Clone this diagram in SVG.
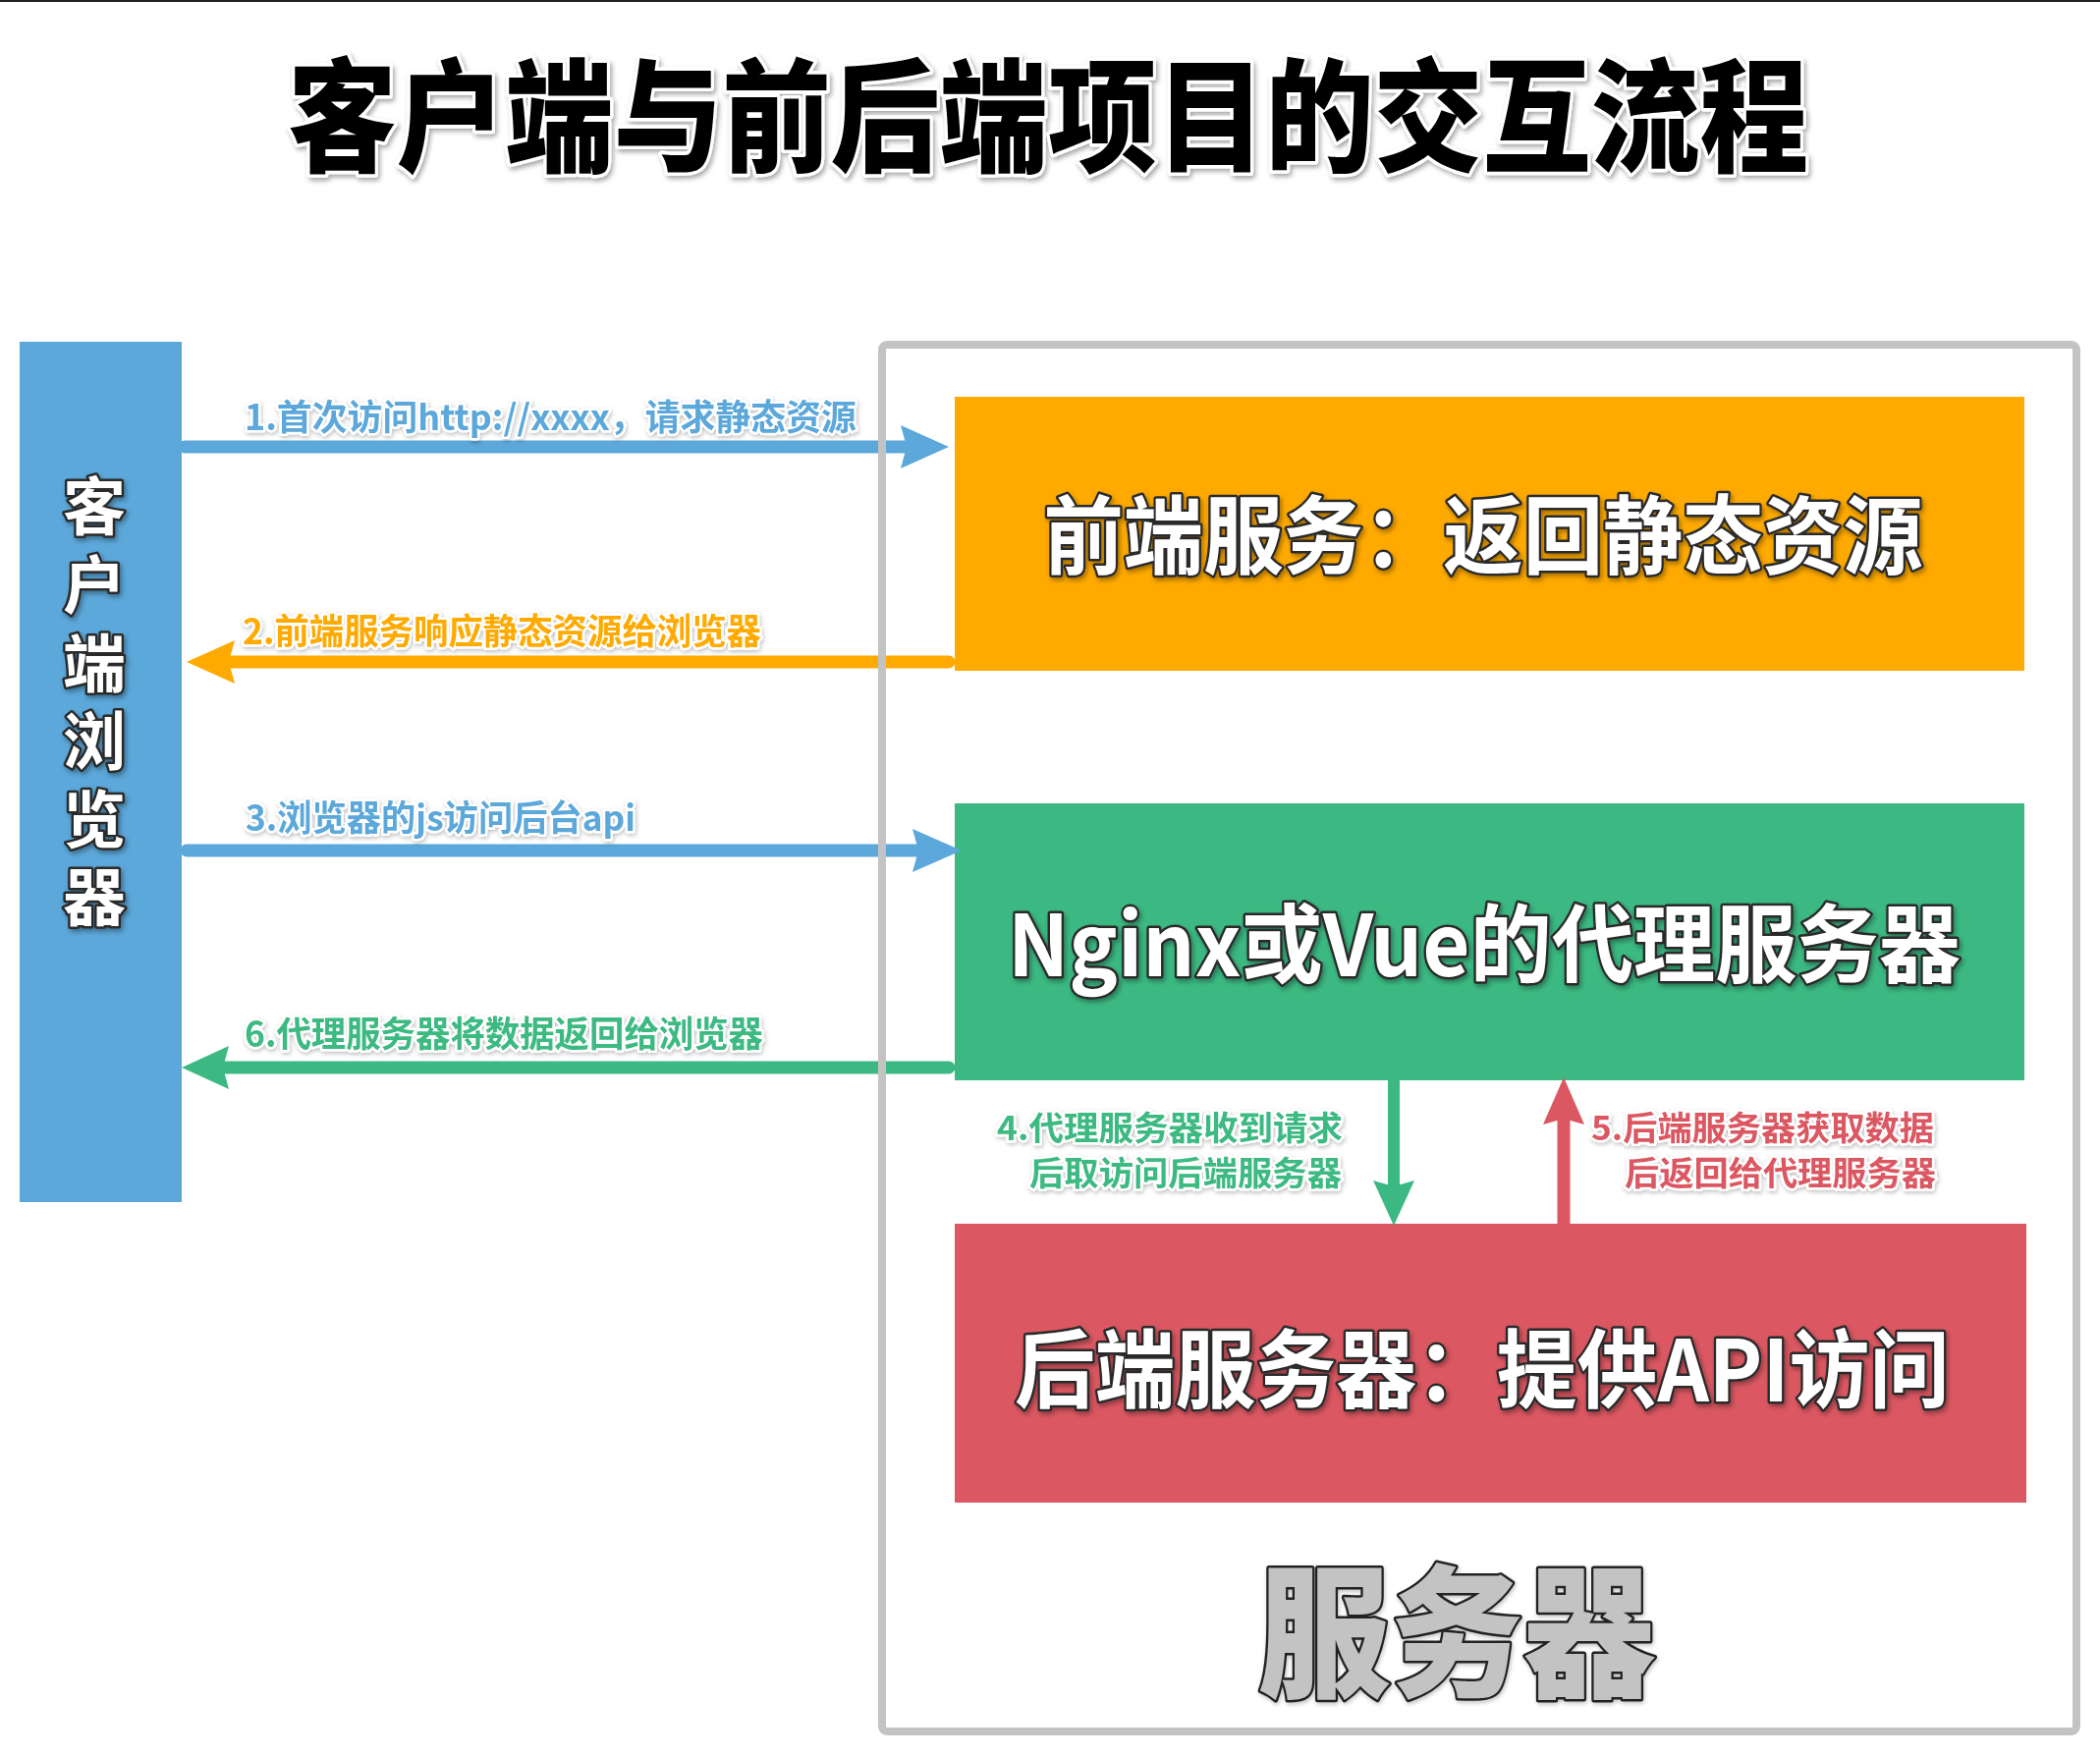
<svg xmlns="http://www.w3.org/2000/svg" width="2138" height="1788" viewBox="0 0 2138 1788">
<defs>
<filter id="sh" x="-10%" y="-30%" width="120%" height="160%">
<feDropShadow dx="2" dy="3" stdDeviation="2.5" flood-color="#000" flood-opacity="0.35"/>
</filter>
<filter id="glow" x="-10%" y="-30%" width="120%" height="160%">
<feDropShadow dx="1" dy="2" stdDeviation="2" flood-color="#000" flood-opacity="0.25"/>
</filter>
</defs>
<style>
text{font-family:"Noto Sans CJK SC","Microsoft YaHei",sans-serif;font-weight:700;paint-order:stroke fill;stroke-linejoin:round}
.title{font-weight:900;font-size:125px;fill:#000;stroke:#fff;stroke-width:7px;filter:url(#sh)}
.node{font-size:87px;fill:#fff;stroke:#2a2a2a;stroke-width:5px;filter:url(#sh)}
.client{font-size:64px;fill:#fff;stroke:#2a2a2a;stroke-width:5px;filter:url(#sh);writing-mode:vertical-rl;letter-spacing:15.6px}
.srv{font-weight:900;font-size:146px;fill:#c3c3c3;stroke:#222;stroke-width:5px;filter:url(#glow)}
.lbl{font-size:36px;stroke:#fff;stroke-width:5px;filter:url(#glow)}
.lbl2{font-size:34px;stroke:#fff;stroke-width:5px;filter:url(#glow);text-anchor:end}
.blue{fill:#5ca8da}.orange{fill:#ffaa00}.green{fill:#3cb982}.red{fill:#db5862}
.ln{fill:none;stroke-width:13}
</style>
<rect x="0" y="0" width="2138" height="2" fill="#222"/>
<text class="title" x="1067" y="165" text-anchor="middle" textLength="1548" lengthAdjust="spacingAndGlyphs">客户端与前后端项目的交互流程</text>

<g id="client">
<rect x="20" y="348" width="165" height="876" fill="#5ca8da"/>
<text class="client" x="96" y="483">客户端浏览器</text>
</g>

<g id="frontend">
<rect x="972" y="404" width="1089" height="279" fill="#ffaa00"/>
<text class="node" x="1510" y="578" text-anchor="middle" textLength="895" lengthAdjust="spacingAndGlyphs">前端服务：返回静态资源</text>
</g>

<g id="proxy">
<rect x="972" y="818" width="1089" height="282" fill="#3cb982"/>
<text class="node" x="1511" y="994" text-anchor="middle" textLength="970" lengthAdjust="spacingAndGlyphs">Nginx或Vue的代理服务器</text>
</g>

<g id="backend">
<rect x="972" y="1246" width="1091" height="284" fill="#db5862"/>
<text class="node" x="1509" y="1427" text-anchor="middle" textLength="952" lengthAdjust="spacingAndGlyphs">后端服务器：提供API访问</text>
</g>

<g id="connectors">
<line class="ln" x1="188" y1="455" x2="924" y2="455" stroke="#5ca8da" stroke-linecap="round"/>
<polygon points="917,433 966,455 917,477 923,455" fill="#5ca8da"/>
<text class="lbl blue" x="249" y="438" textLength="623" lengthAdjust="spacingAndGlyphs">1.首次访问http://xxxx，请求静态资源</text>

<line class="ln" x1="966" y1="674" x2="232" y2="674" stroke="#ffaa00" stroke-linecap="round"/>
<polygon points="190,674 239,652 233,674 239,696" fill="#ffaa00"/>
<text class="lbl orange" x="247" y="656" textLength="528" lengthAdjust="spacingAndGlyphs">2.前端服务响应静态资源给浏览器</text>

<line class="ln" x1="190" y1="866" x2="936" y2="866" stroke="#5ca8da" stroke-linecap="round"/>
<polygon points="929,844 979,866 929,888 935,866" fill="#5ca8da"/>
<text class="lbl blue" x="250" y="846" textLength="397" lengthAdjust="spacingAndGlyphs">3.浏览器的js访问后台api</text>

<line class="ln" x1="966" y1="1087" x2="228" y2="1087" stroke="#3cb982" stroke-linecap="round"/>
<polygon points="185,1087 233,1065 227,1087 233,1109" fill="#3cb982"/>
<text class="lbl green" x="249" y="1066" textLength="528" lengthAdjust="spacingAndGlyphs">6.代理服务器将数据返回给浏览器</text>

<line x1="1419" y1="1100" x2="1419" y2="1209" stroke="#3cb982" stroke-width="12"/>
<polygon points="1398,1202 1419,1248 1440,1202 1419,1208" fill="#3cb982"/>
<text class="lbl2 green" x="1367" y="1161" textLength="352" lengthAdjust="spacingAndGlyphs">4.代理服务器收到请求</text>
<text class="lbl2 green" x="1366" y="1207" textLength="318" lengthAdjust="spacingAndGlyphs">后取访问后端服务器</text>

<line x1="1592" y1="1246" x2="1592" y2="1138" stroke="#db5862" stroke-width="13"/>
<polygon points="1571,1145 1592,1097 1613,1145 1592,1139" fill="#db5862"/>
<text class="lbl2 red" x="1969" y="1161" textLength="349" lengthAdjust="spacingAndGlyphs">5.后端服务器获取数据</text>
<text class="lbl2 red" x="1971" y="1207" textLength="317" lengthAdjust="spacingAndGlyphs">后返回给代理服务器</text>
</g>

<g id="server">
<rect x="898" y="351" width="1216" height="1412" rx="5" fill="none" stroke="#c3c3c3" stroke-width="8"/>
<text class="srv" x="1483" y="1716" text-anchor="middle" textLength="405" lengthAdjust="spacingAndGlyphs">服务器</text>
</g>
</svg>
